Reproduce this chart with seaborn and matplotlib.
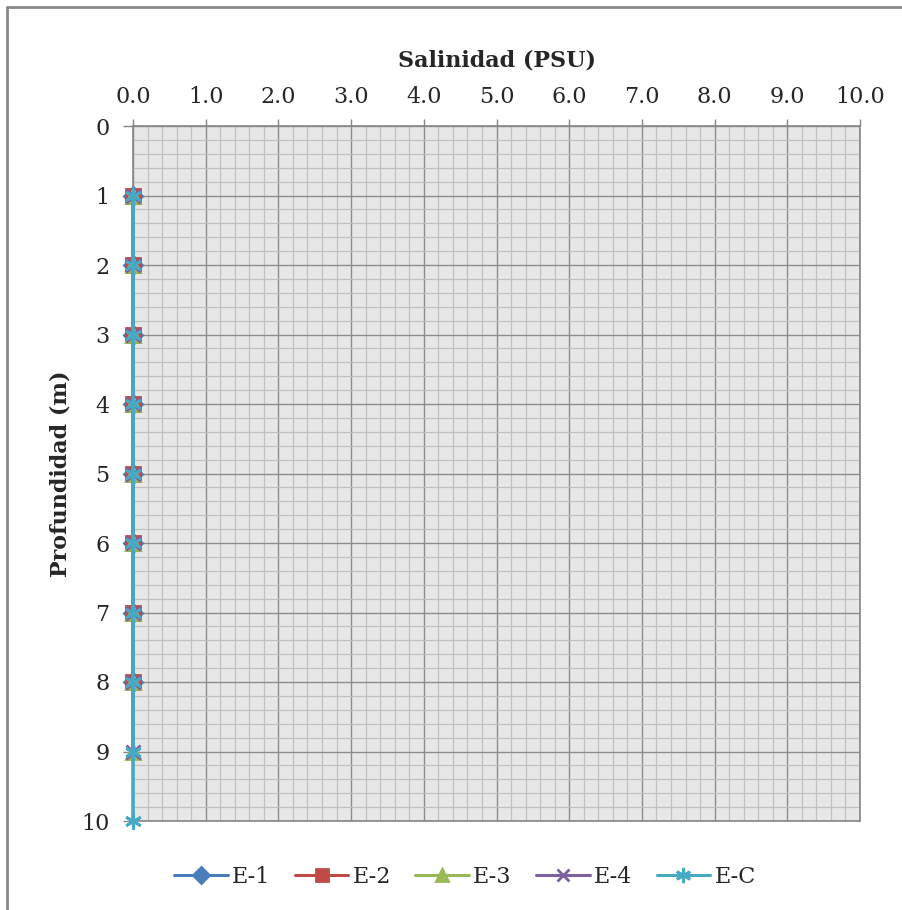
import matplotlib
matplotlib.use("Agg")
import matplotlib.pyplot as plt
from matplotlib.lines import Line2D
from matplotlib.ticker import MultipleLocator, FormatStrFormatter
import numpy as np
import pandas as pd
import seaborn as sns

# Salinity profiles per station (PSU) against depth (m)
stations = ["E-1", "E-2", "E-3", "E-4", "E-C"]
depth_e1 = [1, 2, 3, 4, 5, 6, 7, 8]
depth_e2 = [1, 2, 3, 4, 5, 6, 7, 8]
depth_e3 = [1, 2, 3, 4, 5, 6, 7, 8, 9]
depth_e4 = [1, 2, 3, 4, 5, 6, 7, 8, 9]
depth_ec = [1, 2, 3, 4, 5, 6, 7, 8, 9, 10]
sal_e1 = [0.0, 0.0, 0.0, 0.0, 0.0, 0.0, 0.0, 0.0]
sal_e2 = [0.0, 0.0, 0.0, 0.0, 0.0, 0.0, 0.0, 0.0]
sal_e3 = [0.0, 0.0, 0.0, 0.0, 0.0, 0.0, 0.0, 0.0, 0.0]
sal_e4 = [0.0, 0.0, 0.0, 0.0, 0.0, 0.0, 0.0, 0.0, 0.0]
sal_ec = [0.0, 0.0, 0.0, 0.0, 0.0, 0.0, 0.0, 0.0, 0.0, 0.0]

x_ticks = [0, 1, 2, 3, 4, 5, 6, 7, 8, 9, 10]
y_ticks = [0, 1, 2, 3, 4, 5, 6, 7, 8, 9, 10]

colors = {"E-1": "#4A7EBB", "E-2": "#BE4B48", "E-3": "#98B954",
          "E-4": "#7D60A0", "E-C": "#46AAC5"}
# seaborn needs all-filled markers; the line-art ones are swapped in afterwards
seaborn_markers = {"E-1": "D", "E-2": "s", "E-3": "^", "E-4": "X", "E-C": "*"}
final_markers = {"E-1": "D", "E-2": "s", "E-3": "^", "E-4": "x", "E-C": (6, 2, 0)}
marker_sizes = {"E-1": 9, "E-2": 10, "E-3": 10, "E-4": 10, "E-C": 12}

frames = []
for name, d, s in zip(stations,
                      [depth_e1, depth_e2, depth_e3, depth_e4, depth_ec],
                      [sal_e1, sal_e2, sal_e3, sal_e4, sal_ec]):
    frames.append(pd.DataFrame({"Estación": name, "Profundidad": d, "Salinidad": s}))
df = pd.concat(frames, ignore_index=True)

sns.set_style("white")
plt.rcParams["font.family"] = ["DejaVu Serif"]

fig = plt.figure(figsize=(9.02, 9.10), dpi=100)
ax = fig.add_axes([133 / 902, 89 / 910, 727 / 902, 695 / 910])
ax.set_facecolor("#E7E7E7")

sns.lineplot(data=df, x="Salinidad", y="Profundidad", hue="Estación",
             style="Estación", hue_order=stations, style_order=stations,
             palette=colors, markers=seaborn_markers, dashes=False, sort=False,
             estimator=None, orient="y", linewidth=2.6, markersize=10, ax=ax)


def restyle(line, name, lw=2.6):
    c = colors[name]
    line.set_marker(final_markers[name])
    line.set_markersize(marker_sizes[name])
    line.set_color(c)
    line.set_markeredgecolor(c)
    line.set_markerfacecolor(c)
    line.set_markeredgewidth(2.0)
    line.set_linewidth(lw)


data_lines = [ln for ln in ax.lines if len(ln.get_xdata()) > 0]
for i, (ln, name) in enumerate(zip(data_lines, stations)):
    restyle(ln, name)
    ln.set_clip_on(False)
    ln.set_zorder(4 + i * 0.1)

ax.set_xlim(0, 10)
ax.set_ylim(10, 0)
ax.xaxis.tick_top()
ax.xaxis.set_label_position("top")
ax.set_xticks(x_ticks)
ax.set_yticks(y_ticks)
ax.xaxis.set_major_formatter(FormatStrFormatter("%.1f"))
ax.xaxis.set_minor_locator(MultipleLocator(0.2))
ax.yaxis.set_minor_locator(MultipleLocator(0.2))

ax.grid(which="major", color="#8C8C8C", linewidth=1.0)
ax.grid(which="minor", color="#C0C0C0", linewidth=0.9)
ax.set_axisbelow(True)
ax.tick_params(axis="x", which="major", direction="out", length=5, width=1,
               color="#868686", pad=8, labelsize=16, top=True, bottom=False)
ax.tick_params(axis="y", which="major", direction="out", length=7, width=1,
               color="#868686", pad=10, labelsize=16, left=True)
ax.tick_params(which="minor", length=0)
for sp in ax.spines.values():
    sp.set_color("#868686")
    sp.set_linewidth(1.2)

ax.set_xlabel("Salinidad (PSU)", fontsize=16, fontweight="bold", labelpad=14)
ax.set_ylabel("Profundidad (m)", fontsize=16, fontweight="bold", labelpad=7)

sns.move_legend(ax, "center", bbox_to_anchor=(0.4567, -0.0806), ncol=5,
                frameon=False, title=None, fontsize=16, handlelength=2.4,
                columnspacing=1.1, handletextpad=0.2)
leg = ax.get_legend()
for h, t in zip(leg.legend_handles, leg.get_texts()):
    restyle(h, t.get_text(), lw=2.2)
    h.set_markersize(marker_sizes[t.get_text()] - 1)

# outer chart frame (top and left edges)
fig.add_artist(Line2D([7 / 902, 7 / 902], [0, 1 - 7 / 910], transform=fig.transFigure,
                      color="#8A8A8A", linewidth=2))
fig.add_artist(Line2D([7 / 902, 1], [1 - 7 / 910, 1 - 7 / 910], transform=fig.transFigure,
                      color="#8A8A8A", linewidth=2))

fig.savefig("out.png", dpi=100)
